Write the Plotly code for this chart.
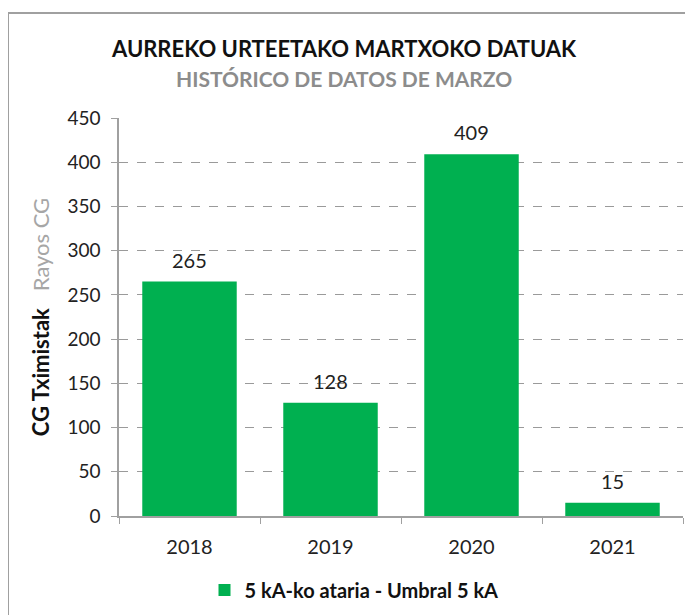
import plotly.graph_objects as go

years = ["2018", "2019", "2020", "2021"]
values = [265, 128, 409, 15]
series_name = "5 kA-ko ataria - Umbral 5 kA"
title_eu = "AURREKO URTEETAKO MARTXOKO DATUAK"
title_es = "HISTÓRICO DE DATOS DE MARZO"
ytitle_eu = "CG Tximistak"
ytitle_es = "Rayos CG"

FONT = "Lato, 'Open Sans', sans-serif"
GREEN = "#00B050"

# page has an 8px body margin; figure is sized to fit the 693x615 window
W, H = 685, 607
L, R, T, B = 111, 10, 110, 99
PW, PH = W - L - R, H - T - B

fig = go.Figure()
fig.add_trace(go.Bar(
    x=years, y=values, name=f"<b>{series_name}</b>",
    marker=dict(color=GREEN, line=dict(width=0)),
    hoverinfo="x+y",
))

# value labels: category serial index on the category axis, value on the y axis
for i, v in enumerate(values):
    fig.add_annotation(x=i, y=v, text=str(v), showarrow=False, yshift=22,
                       xanchor="center", yanchor="middle",
                       font=dict(size=20, color="#222222", family=FONT))

fig.update_layout(
    width=W, height=H,
    margin=dict(l=L, r=R, t=T, b=B, autoexpand=False),
    paper_bgcolor="white", plot_bgcolor="white",
    font=dict(family=FONT, color="#222222"),
    bargap=0.33,
    showlegend=True,
    legend=dict(orientation="h", x=(354 - 8 - L) / PW, xanchor="center",
                y=-74 / PH, yanchor="middle",
                font=dict(size=20, color="#111111", family=FONT), itemwidth=30),
    xaxis=dict(type="category", categoryorder="array", categoryarray=years,
               showline=True, linecolor="#a0a0a0", linewidth=1.5,
               ticks="outside", tickson="boundaries", ticklen=6, tickcolor="#a0a0a0",
               ticklabelstandoff=12,
               tickfont=dict(size=20, color="#222222"), showgrid=False),
    yaxis=dict(range=[0, 450], dtick=50, showline=True, linecolor="#a0a0a0", linewidth=1.5,
               ticks="outside", ticklen=6, tickcolor="#a0a0a0",
               ticklabelstandoff=7,
               tickfont=dict(size=19, color="#222222"),
               showgrid=True, gridcolor="#9a9a9a", griddash="dash", gridwidth=1,
               zeroline=False,
               title=dict(text=f"<b>{ytitle_eu}</b>   <span style='color:#a6a6a6'>{ytitle_es}</span>",
                          font=dict(size=22, color="#111111"), standoff=12)),
)

tx = (344 - 8 - L) / PW
fig.add_annotation(text=f"<b>{title_eu}</b>", xref="paper", yref="paper",
                   x=tx, y=1, yshift=70, showarrow=False, xanchor="center", yanchor="middle",
                   font=dict(size=22, color="#111111", family=FONT))
fig.add_annotation(text=f"<b>{title_es}</b>", xref="paper", yref="paper",
                   x=tx, y=1, yshift=40, showarrow=False, xanchor="center", yanchor="middle",
                   font=dict(size=21, color="#8c8c8c", family=FONT))

fig.add_shape(type="rect", xref="paper", yref="paper",
              x0=-L / PW, x1=(W + 20 - L) / PW, y0=-(B + 20) / PH, y1=1 + (T - 5) / PH,
              line=dict(color="#a0a0a0", width=2), fillcolor="rgba(0,0,0,0)", layer="below")

fig.write_html("out.html")
